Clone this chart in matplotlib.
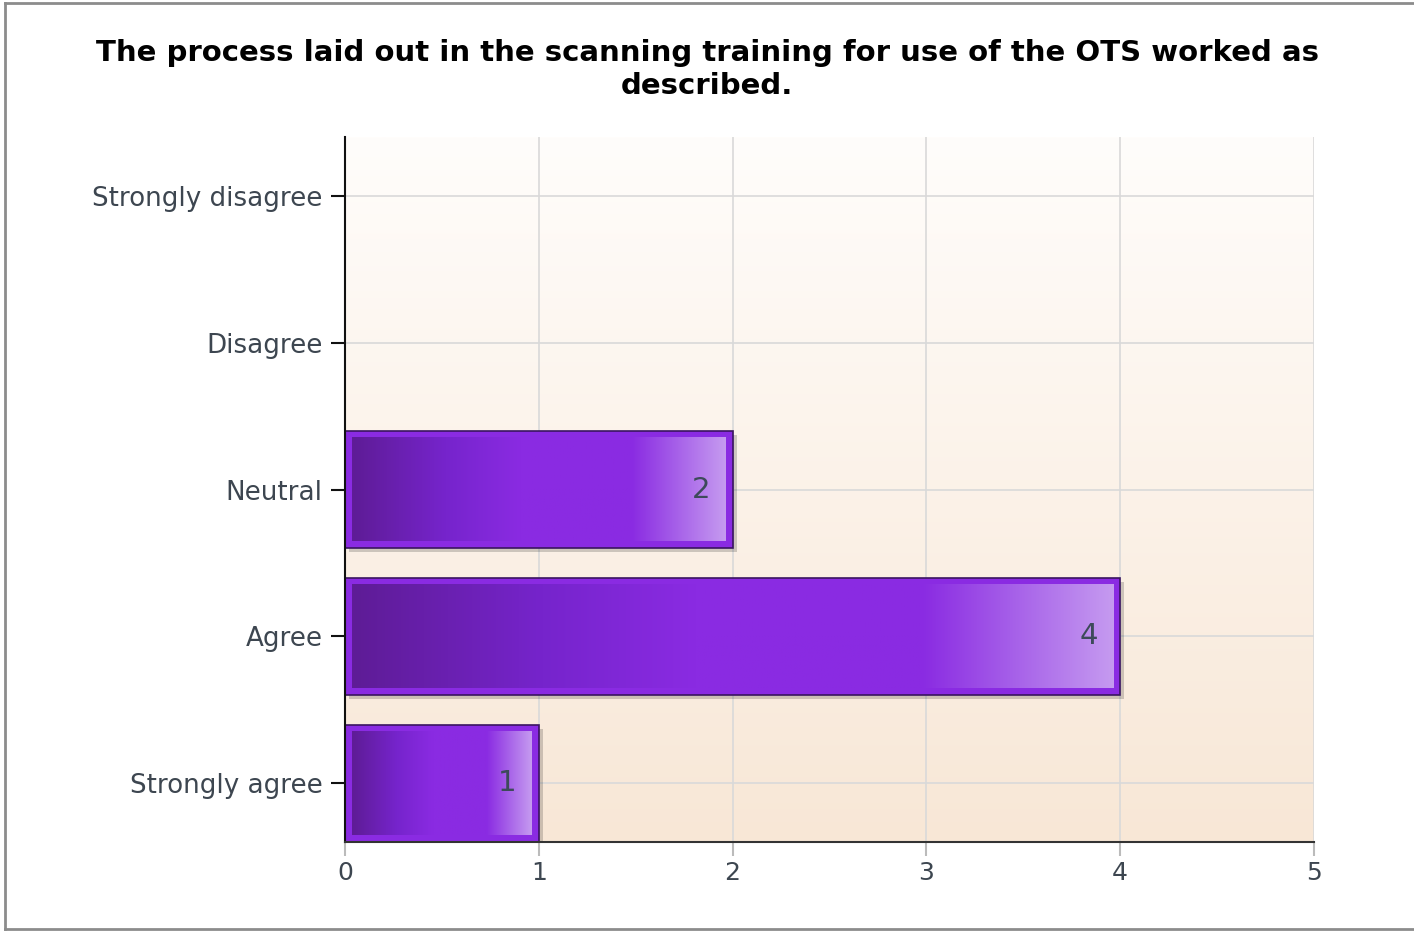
import numpy as np
import matplotlib
matplotlib.use("Agg")
import matplotlib.pyplot as plt
from matplotlib.colors import LinearSegmentedColormap
from matplotlib.patches import Rectangle
from matplotlib.lines import Line2D

# data
categories = ["Strongly disagree", "Disagree", "Neutral", "Agree", "Strongly agree"]
counts = [0, 0, 2, 4, 1]
x_ticks = [0, 1, 2, 3, 4, 5]
title = "The process laid out in the scanning training for use of the OTS worked as\ndescribed."

plt.rcParams["font.family"] = ["DejaVu Sans"]

W, H = 1414, 931
fig = plt.figure(figsize=(W / 100, H / 100), dpi=100)
fig.patch.set_facecolor("white")

left, right, top, bottom = 345, 1314, 137, 842
ax = fig.add_axes([left / W, 1 - bottom / H, (right - left) / W, (bottom - top) / H])

n = len(categories)
ypos = np.arange(n)[::-1]  # first category at top
ax.set_xlim(0, 5)
ax.set_ylim(-0.4, n - 0.6)

# plot background gradient (white at top -> peach at bottom)
bg = LinearSegmentedColormap.from_list("bg", ["#f8e7d6", "#fffdfb"])
ax.imshow(np.linspace(0, 1, 256).reshape(-1, 1), cmap=bg, origin="lower",
          extent=[0, 1, 0, 1], transform=ax.transAxes, aspect="auto", zorder=0)

ax.set_xticks(x_ticks)
ax.set_yticks(ypos)
ax.set_yticklabels(categories)
ax.grid(True, color="#d9d9d9", linewidth=1.2, zorder=1)
ax.set_axisbelow(True)

for s in ["top", "right"]:
    ax.spines[s].set_visible(False)
ax.spines["left"].set_color("#111111")
ax.spines["bottom"].set_color("#333333")
ax.spines["left"].set_linewidth(1.5)
ax.spines["bottom"].set_linewidth(1.5)
ax.spines["left"].set_zorder(6)
ax.spines["bottom"].set_zorder(6)

ax.tick_params(axis="y", length=10, width=1.5, color="#111111", labelsize=18.8,
               labelcolor="#3d4650", pad=6)
ax.tick_params(axis="x", length=10, width=1.5, color="#bbbbbb", labelsize=18,
               labelcolor="#3d4650", pad=4)

# bar styling
bar_h = 0.8
px_x = (right - left) / 5.0
px_y = (bottom - top) / (n - 0.2)
inset_x = 7 / px_x
inset_y = 7 / px_y
shadow_x = 4 / px_x
shadow_y = 4 / px_y
grad = LinearSegmentedColormap.from_list(
    "bar", [(0.0, "#5e1c96"), (0.25, "#7624cc"), (0.45, "#8a2be2"),
            (0.75, "#8a2be2"), (1.0, "#c59af0")])
gradient = np.linspace(0, 1, 256).reshape(1, -1)

for y, v in zip(ypos, counts):
    if v <= 0:
        continue
    y0 = y - bar_h / 2
    # shadow
    ax.add_patch(Rectangle((shadow_x, y0 - shadow_y), v, bar_h,
                           facecolor="#000000", alpha=0.18, edgecolor="none", zorder=3))
    # outer frame
    ax.barh(y, v, height=bar_h, color="#8a2be2", edgecolor="#3a1560",
            linewidth=1.2, zorder=4)
    # inner gradient fill
    ax.imshow(gradient, cmap=grad, aspect="auto", zorder=5,
              extent=[inset_x, v - inset_x, y0 + inset_y, y0 + bar_h - inset_y])
    ax.text(v - 0.113, y, str(v), ha="right", va="center", fontsize=21,
            color="#3d4a5a", zorder=7)

ax.set_xlim(0, 5)
ax.set_ylim(-0.4, n - 0.6)

fig.text(0.5, 1 - 69.5 / H, title, ha="center", va="center", fontsize=21,
         fontweight="bold", color="#000000", linespacing=1.2)

# outer frame of the chart image
fig.add_artist(Line2D([5 / W, 5 / W], [1 - 929 / H, 1 - 3 / H], color="#8c8c8c",
                      linewidth=2, transform=fig.transFigure))
fig.add_artist(Line2D([5 / W, 1], [1 - 3 / H, 1 - 3 / H], color="#8c8c8c",
                      linewidth=2, transform=fig.transFigure))
fig.add_artist(Line2D([5 / W, 1], [1 - 929 / H, 1 - 929 / H], color="#8c8c8c",
                      linewidth=2, transform=fig.transFigure))

fig.savefig("out.png", dpi=100)
